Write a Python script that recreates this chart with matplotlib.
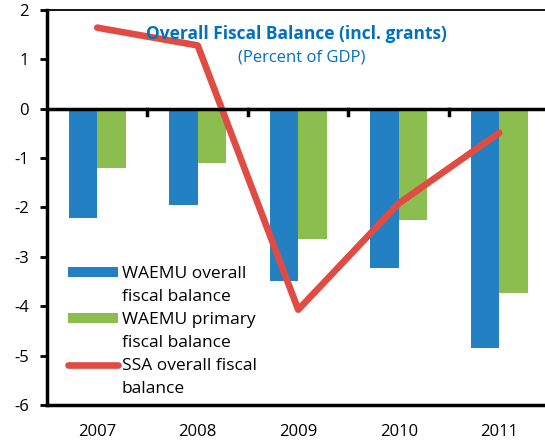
import numpy as np
import matplotlib.pyplot as plt
from matplotlib.patches import Patch
from matplotlib.lines import Line2D

plt.rcParams['font.family'] = ['Open Sans', 'DejaVu Sans']
plt.rcParams['axes.unicode_minus'] = False

years = ['2007', '2008', '2009', '2010', '2011']
waemu_overall = [-2.21, -1.96, -3.48, -3.22, -4.84]
waemu_primary = [-1.21, -1.11, -2.63, -2.25, -3.74]
ssa_overall = [1.64, 1.28, -4.07, -1.92, -0.49]

blue = '#2381C3'
green = '#8CBD4F'
red = '#E04B43'
title_blue = '#0070C0'

fig = plt.figure(figsize=(5.45, 4.41), dpi=100)
ax = fig.add_axes([0.0862, 0.0816, 0.922, 0.896])

x = np.arange(len(years))
w = 0.285
ax.bar(x - w / 2, waemu_overall, w, color=blue, zorder=2)
ax.bar(x + w / 2, waemu_primary, w, color=green, zorder=2)
ax.plot(x, ssa_overall, color=red, lw=4.8, solid_capstyle='round', zorder=3)

# zero line with category separators
ax.axhline(0, color='black', lw=2.5, zorder=4)
for b in np.arange(0.5, len(years) - 1, 1):
    ax.plot([b, b], [0, -0.12], color='black', lw=2.5, zorder=4)

ax.set_xlim(-0.5, len(years) - 0.5)
ax.set_ylim(-6, 2)
ax.set_yticks(range(-6, 3))
ax.set_xticks(x)
ax.set_xticklabels(years)
ax.tick_params(axis='x', length=0, pad=14, labelsize=12)
ax.tick_params(axis='y', length=5, width=2, direction='out', labelsize=12, pad=8)

ax.spines['right'].set_visible(False)
ax.spines['left'].set_linewidth(2.5)
ax.spines['bottom'].set_linewidth(2.5)
ax.spines['top'].set_linewidth(1.3)

ax.text(0.497, 0.94, 'Overall Fiscal Balance (incl. grants)', transform=ax.transAxes,
        ha='center', va='center', color=title_blue, fontsize=12.5,
        fontweight='bold', zorder=5)
ax.text(0.507, 0.88, '(Percent of GDP)', transform=ax.transAxes,
        ha='center', va='center', color=title_blue, fontsize=12, zorder=5)

# legend: second line of each label gets a blank handle so the key sits on line one
blank = dict(facecolor='none', edgecolor='none')
handles = [
    Patch(facecolor=blue, label='WAEMU overall'),
    Patch(**blank, label='fiscal balance'),
    Patch(facecolor=green, label='WAEMU primary'),
    Patch(**blank, label='fiscal balance'),
    Line2D([], [], color=red, lw=4.8, solid_capstyle='round',
           label='SSA overall fiscal'),
    Patch(**blank, label='balance'),
]
ax.legend(handles=handles, loc='lower left', bbox_to_anchor=(0.042, 0.02),
          frameon=False, fontsize=12.5, handlelength=2.9, handleheight=0.5,
          handletextpad=0.2, labelspacing=0.4, borderpad=0, borderaxespad=0)

fig.savefig('out.png', dpi=100)
